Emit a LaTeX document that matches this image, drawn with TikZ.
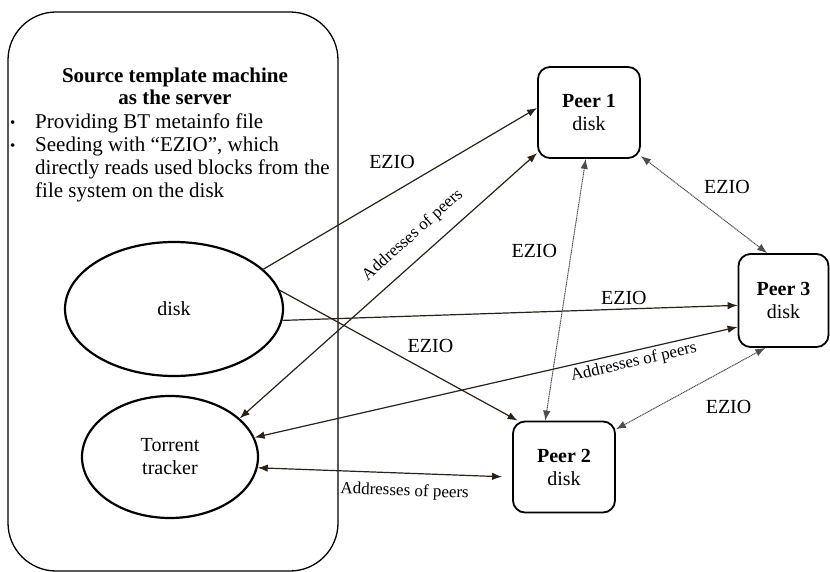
\documentclass[tikz,border=0pt]{standalone}
\usepackage{fontspec}
\setmainfont{Liberation Serif}
\usepackage{tikz}
\usetikzlibrary{
    arrows.meta,
    shapes.geometric
}
\definecolor{linebrown}{HTML}{2B2117}
\newcommand{\itembul}{\makebox[25pt][l]{\raisebox{1pt}{\fontsize{15}{15}\selectfont\textbullet}}}

\begin{document}
\begin{tikzpicture}[x=1pt, y=-1pt,
    font=\fontsize{20}{23}\selectfont,
    srvbox/.style={draw, line width=1.3pt, rounded corners=48pt, minimum width=330pt, minimum height=559pt},
    peer/.style={draw, line width=1.8pt, rounded corners=12pt, minimum width=102pt, minimum height=91pt, align=center, inner sep=0pt},
    blob/.style={draw, ellipse, line width=2.2pt, align=center, inner sep=0pt},
    link/.style={draw=linebrown, line width=1.2pt, -{Latex[length=10pt,width=7.5pt]}},
    twoway/.style={link, {Latex[length=10pt,width=7.5pt]}-{Latex[length=10pt,width=7.5pt]}},
    p2p/.style={twoway, draw=black!70, line width=1pt, dash pattern=on 1.2pt off 0.6pt},
    addr/.style={font=\fontsize{17}{20}\selectfont, sloped, inner sep=2pt},
    ezio/.style={inner sep=2pt}
]
    \useasboundingbox (0,0) rectangle (830,572);
    \node[srvbox] (server) at (173,291.5) {};
    \node[font=\fontsize{21}{22}\selectfont\bfseries, align=center] (title) at (175,86) {Source template machine\\as the server};
    \node[anchor=north west, align=left, inner sep=0pt, font=\fontsize{21}{23}\selectfont] (items) at (10,113.5) {\itembul Providing BT metainfo file\\
        \itembul Seeding with “EZIO”, which\\
        \hspace*{25pt}directly reads used blocks from the\\
        \hspace*{25pt}file system on the disk};
    \node[blob, minimum width=218pt, minimum height=134pt] (disk) at (174,309) {disk};
    \node[blob, minimum width=176pt, minimum height=122pt] (tracker) at (170,457) {Torrent\\tracker};
    \node[peer] (p1) at (589,112.5) {\textbf{Peer 1}\\disk};
    \node[peer] (p2) at (564,467) {\textbf{Peer 2}\\disk};
    \node[peer, minimum width=90pt, minimum height=93pt] (p3) at (783.5,300.5) {\textbf{Peer 3}\\disk};

    \draw[link] (disk.24) -- node[ezio, pos=.47, above=22pt] {EZIO} (p1.175);
    \draw[twoway] (tracker.29) -- node[addr, pos=.63, above=11pt] {Addresses of peers} (p1.218);
    \draw[link] (disk.10) -- node[ezio, pos=.6, above=13pt, xshift=8pt] {EZIO} (p2.135);
    \draw[link] (disk.-6) -- node[ezio, pos=.75, above=2pt] {EZIO} (p3.186);
    \draw[twoway] (tracker.13) -- node[addr, pos=.78, below=1pt] {Addresses of peers} (p3.210);
    \draw[twoway, shorten >=10pt] (tracker.-7) -- node[addr, pos=.58, below=8pt] {Addresses of peers} (p2.191);
    \draw[p2p] (p1.266) -- node[ezio, pos=.35, left=12pt] {EZIO} (p2.112);
    \draw[p2p] (p1.-40) -- node[ezio, pos=.45, above right=4pt] {EZIO} (p3.109);
    \draw[p2p] (p2.36) -- node[ezio, pos=.6, below=17pt, xshift=23pt] {EZIO} (p3.249);
\end{tikzpicture}
\end{document}
